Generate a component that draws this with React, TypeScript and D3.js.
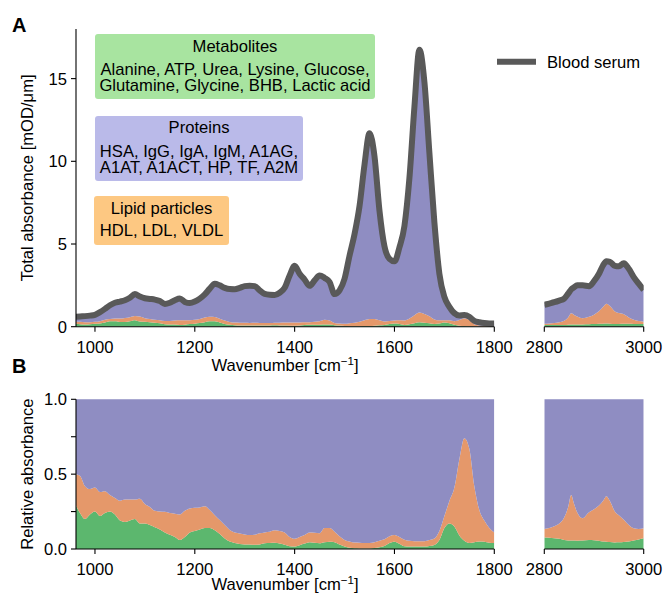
import React from 'react';
import * as d3 from 'd3';

// fingerprint region (cm^-1)
const wnFinger = [962, 970, 980, 990, 1000, 1010, 1020, 1030, 1040, 1050, 1060, 1070, 1080, 1090, 1100, 1110, 1120, 1130, 1140, 1150, 1160, 1170, 1180, 1190, 1200, 1210, 1220, 1230, 1240, 1250, 1260, 1270, 1280, 1290, 1300, 1310, 1320, 1330, 1340, 1350, 1360, 1370, 1380, 1390, 1400, 1410, 1420, 1430, 1440, 1450, 1460, 1470, 1480, 1490, 1500, 1510, 1520, 1530, 1540, 1550, 1560, 1570, 1580, 1590, 1600, 1610, 1620, 1630, 1640, 1650, 1660, 1670, 1680, 1690, 1700, 1710, 1720, 1730, 1740, 1750, 1760, 1770, 1780, 1790, 1800];
// blood serum total absorbance [mOD/um]
const totalFinger = [0.6, 0.62, 0.64, 0.67, 0.72, 0.88, 1.08, 1.3, 1.45, 1.52, 1.6, 1.75, 1.97, 1.82, 1.72, 1.68, 1.64, 1.55, 1.38, 1.45, 1.6, 1.7, 1.5, 1.43, 1.52, 1.7, 1.95, 2.3, 2.6, 2.5, 2.35, 2.28, 2.27, 2.35, 2.45, 2.48, 2.45, 2.2, 1.98, 1.93, 1.92, 2.05, 2.35, 3.1, 3.68, 3.2, 2.85, 2.47, 2.8, 3.1, 2.95, 2.7, 1.97, 2.2, 2.9, 4.3, 5.6, 7.3, 9.8, 11.7, 10.3, 7.0, 4.85, 4.1, 3.95, 4.8, 6.1, 9.0, 13.3, 16.75, 14.8, 10.5, 6.3, 3.2, 1.8, 1.2, 0.82, 0.68, 0.7, 0.6, 0.35, 0.27, 0.22, 0.2, 0.2];
// relative contributions
const metabolitesFinger = [0.29, 0.24, 0.2, 0.23, 0.25, 0.22, 0.24, 0.25, 0.23, 0.19, 0.18, 0.19, 0.2, 0.17, 0.17, 0.16, 0.145, 0.13, 0.11, 0.095, 0.08, 0.06, 0.08, 0.11, 0.12, 0.13, 0.14, 0.14, 0.125, 0.1, 0.07, 0.05, 0.04, 0.033, 0.03, 0.03, 0.028, 0.03, 0.038, 0.04, 0.042, 0.036, 0.028, 0.018, 0.016, 0.025, 0.036, 0.045, 0.042, 0.038, 0.045, 0.048, 0.045, 0.03, 0.016, 0.008, 0.005, 0.004, 0.004, 0.004, 0.006, 0.012, 0.02, 0.04, 0.049, 0.035, 0.018, 0.016, 0.016, 0.016, 0.016, 0.02, 0.027, 0.06, 0.14, 0.17, 0.15, 0.09, 0.055, 0.04, 0.045, 0.05, 0.048, 0.042, 0.04];
const lipidsFinger = [0.21, 0.25, 0.22, 0.17, 0.16, 0.16, 0.145, 0.11, 0.11, 0.132, 0.15, 0.14, 0.13, 0.165, 0.13, 0.12, 0.11, 0.12, 0.138, 0.145, 0.156, 0.171, 0.175, 0.16, 0.155, 0.148, 0.145, 0.12, 0.1, 0.093, 0.09, 0.077, 0.07, 0.071, 0.067, 0.063, 0.067, 0.075, 0.073, 0.075, 0.083, 0.084, 0.082, 0.062, 0.052, 0.055, 0.057, 0.065, 0.066, 0.067, 0.095, 0.092, 0.071, 0.055, 0.044, 0.042, 0.038, 0.038, 0.036, 0.036, 0.039, 0.043, 0.045, 0.045, 0.044, 0.045, 0.044, 0.039, 0.036, 0.035, 0.036, 0.04, 0.043, 0.06, 0.08, 0.15, 0.26, 0.51, 0.685, 0.63, 0.375, 0.21, 0.142, 0.098, 0.07];

// C-H stretch region
const wnCH = [2800, 2810, 2820, 2830, 2840, 2848, 2854, 2860, 2866, 2877, 2890, 2900, 2910, 2918, 2925, 2932, 2942, 2950, 2960, 2970, 2980, 2990, 3000];
const totalCH = [1.32, 1.4, 1.48, 1.58, 1.7, 2.0, 2.25, 2.38, 2.5, 2.5, 2.45, 2.75, 3.2, 3.7, 3.95, 3.92, 3.68, 3.65, 3.84, 3.5, 3.0, 2.6, 2.22];
const metabolitesCH = [0.076, 0.075, 0.072, 0.068, 0.06, 0.057, 0.056, 0.056, 0.055, 0.056, 0.06, 0.058, 0.055, 0.05, 0.049, 0.046, 0.044, 0.045, 0.047, 0.05, 0.056, 0.064, 0.072];
const lipidsCH = [0.057, 0.065, 0.08, 0.102, 0.15, 0.223, 0.304, 0.244, 0.19, 0.149, 0.185, 0.207, 0.235, 0.27, 0.304, 0.274, 0.206, 0.18, 0.148, 0.11, 0.082, 0.069, 0.066];

const yTicksA = [0, 5, 10, 15];
const yTicksB = [0, 0.25, 0.5, 0.75, 1];
const yLabelsB = ['0.0', '', '0.5', '', '1.0'];
const xTicksFinger = [1000, 1200, 1400, 1600, 1800];
const xTicksCH = [2800, 3000];

const metaboliteNames = ['Alanine, ATP, Urea, Lysine, Glucose,', 'Glutamine, Glycine, BHB, Lactic acid'];
const proteinNames = ['HSA, IgG, IgA, IgM, A1AG,', 'A1AT, A1ACT, HP, TF, A2M'];
const lipidNames = ['HDL, LDL, VLDL'];

const green = '#5cb76e';
const orange = '#e5986a';
const purple = '#8f8dc2';
const serum = '#595959';
const font = '"Liberation Sans", Arial, sans-serif';
const fs = 16.6;

type Row = { w: number; t: number; g: number; o: number };

const segments = [
  { key: 'fp', wn: wnFinger, total: totalFinger, met: metabolitesFinger, lip: lipidsFinger, domain: [962, 1800], range: [76, 494.3], ticks: xTicksFinger },
  { key: 'ch', wn: wnCH, total: totalCH, met: metabolitesCH, lip: lipidsCH, domain: [2800, 3000], range: [544.3, 643.7], ticks: xTicksCH },
];

const Panel = ({ which }: { which: 'A' | 'B' }) => {
  const y = which === 'A'
    ? d3.scaleLinear().domain([0, 18]).range([326.7, 29])
    : d3.scaleLinear().domain([0, 1]).range([549, 399.3]);
  const base = y(0);

  return (
    <g>
      {segments.map(seg => {
        const x = d3.scaleLinear().domain(seg.domain).range(seg.range);
        const rows: Row[] = seg.wn.map((w, i) => ({ w, t: seg.total[i], g: seg.met[i], o: seg.met[i] + seg.lip[i] }));
        const s = (r: Row) => (which === 'A' ? r.t : 1);
        const mk = (lo: (r: Row) => number, hi: (r: Row) => number) =>
          d3.area<Row>().x(r => x(r.w)).y0(r => y(lo(r))).y1(r => y(hi(r))).curve(d3.curveMonotoneX)(rows) || '';
        const line = d3.line<Row>().x(r => x(r.w)).y(r => y(r.t)).curve(d3.curveMonotoneX)(rows) || '';
        const clipId = `clip-${which}-${seg.key}`;
        return (
          <g key={seg.key}>
            <clipPath id={clipId}>
              <rect x={seg.range[0]} y={y.range()[1] - 10} width={seg.range[1] - seg.range[0]} height={base - y.range()[1] + 10} />
            </clipPath>
            <g clipPath={`url(#${clipId})`}>
              <path d={mk(() => 0, r => r.g * s(r))} fill={green} />
              <path d={mk(r => r.g * s(r), r => r.o * s(r))} fill={orange} />
              <path d={mk(r => r.o * s(r), r => (which === 'A' ? r.t : 1))} fill={purple} />
              {which === 'A' && <path d={line} fill="none" stroke={serum} strokeWidth={6} strokeLinejoin="round" />}
            </g>
            <line x1={seg.range[0]} x2={seg.range[1]} y1={base} y2={base} stroke="#000" strokeWidth={1.1} />
            {seg.ticks.map(t => (
              <g key={t}>
                <line x1={x(t)} x2={x(t)} y1={base} y2={base + 5} stroke="#000" strokeWidth={1.1} />
                <text x={x(t)} y={base + 26} textAnchor="middle" fontSize={fs}>{t}</text>
              </g>
            ))}
          </g>
        );
      })}
      {/* left spine */}
      <line x1={76} x2={76} y1={y.range()[1]} y2={base} stroke="#000" strokeWidth={1.1} />
      {(which === 'A' ? yTicksA : yTicksB).map((t, i) => (
        <g key={t}>
          <line x1={71} x2={76} y1={y(t)} y2={y(t)} stroke="#000" strokeWidth={1.1} />
          <text x={67} y={y(t)} dy="0.36em" textAnchor="end" fontSize={fs}>
            {which === 'A' ? t : yLabelsB[i]}
          </text>
        </g>
      ))}
      <text x={285} y={base + (which === 'A' ? 44 : 41)} textAnchor="middle" fontSize={fs}>
        Wavenumber [cm<tspan dy={-6} fontSize={11.5}>−1</tspan><tspan dy={6}>]</tspan>
      </text>
      <text transform={`translate(33,${(y.range()[1] + base) / 2}) rotate(-90)`} textAnchor="middle" fontSize={fs}>
        {which === 'A' ? 'Total absorbance [mOD/μm]' : 'Relative absorbance'}
      </text>
      <text x={12} y={which === 'A' ? 32 : 373} fontSize={20} fontWeight="bold">{which}</text>
    </g>
  );
};

const LabelBox = ({ x0, x1, y0, y1, fill, title, titleY, lines, lineY }:
  { x0: number; x1: number; y0: number; y1: number; fill: string; title: string; titleY: number; lines: string[]; lineY: number }) => {
  const cx = (x0 + x1) / 2;
  return (
    <g>
      <rect x={x0} y={y0} width={x1 - x0} height={y1 - y0} rx={3} fill={fill} />
      <text x={cx} y={titleY} textAnchor="middle" fontSize={fs}>{title}</text>
      <text x={cx} y={lineY} textAnchor="middle" fontSize={fs}>
        {lines.map((l, i) => (
          <tspan key={i} x={cx} dy={i === 0 ? 0 : 16.5}>{l}</tspan>
        ))}
      </text>
    </g>
  );
};

export default function App() {
  return (
    <svg width={664} height={595} style={{ position: 'absolute', left: 0, top: 0, background: '#fff' }} fontFamily={font}>
      <Panel which="A" />
      <Panel which="B" />
      <LabelBox x0={95} x1={375} y0={34} y1={99} fill="#a8e4a0" title="Metabolites" titleY={51.7} lines={metaboliteNames} lineY={74.5} />
      <LabelBox x0={95} x1={303} y0={116} y1={181} fill="#babae9" title="Proteins" titleY={132.7} lines={proteinNames} lineY={156.5} />
      <LabelBox x0={94} x1={229} y0={196} y1={245} fill="#fdc882" title="Lipid particles" titleY={214} lines={lipidNames} lineY={235.7} />
      <line x1={497} x2={536} y1={61.7} y2={61.7} stroke={serum} strokeWidth={6} />
      <text x={547} y={67.5} fontSize={fs}>Blood serum</text>
    </svg>
  );
}
